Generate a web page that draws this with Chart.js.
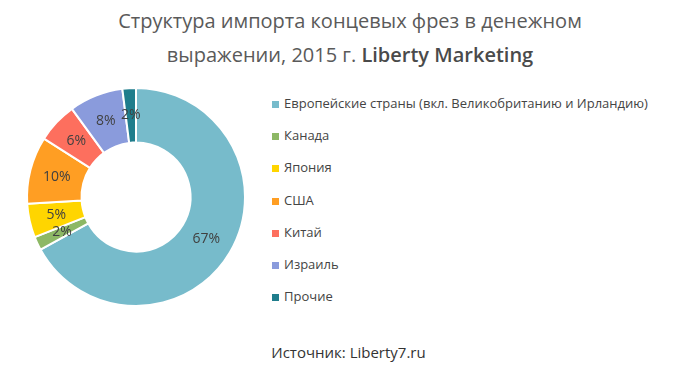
<!DOCTYPE html>
<html>
<head>
<meta charset="utf-8">
<script src="https://cdn.jsdelivr.net/npm/chart.js@4"></script>
<style>
  body { margin: 0; background: #fff; font-family: "Open Sans", sans-serif; }
  #wrap { position: relative; width: 695px; height: 375px; }
  #title { position: absolute; left: 0; top: 4px; width: 700px; text-align: center;
           font-size: 20px; line-height: 34px; color: #5a5a5a; }
  #title b { font-weight: 600; color: #4a4a4a; }
  #box { position: absolute; left: 0; top: 80px; width: 272px; height: 234px; }
  #legend { position: absolute; left: 272px; top: 93px; font-size: 13px; color: #444; }
  #legend div { height: 32.2px; line-height: 20px; white-space: nowrap; }
  #legend span { display: inline-block; width: 7px; height: 7px; margin-right: 5px; vertical-align: 0px; }
  #source { position: absolute; left: 0; top: 342px; width: 697px; text-align: center;
            font-size: 15px; color: #333; }
</style>
</head>
<body>
<div id="wrap">
  <div id="title">Структура импорта концевых фрез в денежном<br>выражении, 2015 г. <b>Liberty Marketing</b></div>
  <div id="box"><canvas id="myChart"></canvas></div>
  <div id="legend"></div>
  <div id="source">Источник: Liberty7.ru</div>
</div>
<script>
var labels = ['Европейские страны (вкл. Великобританию и Ирландию)', 'Канада', 'Япония', 'США', 'Китай', 'Израиль', 'Прочие'];
var shares = [67, 2, 5, 10, 6, 8, 2];
var colors = ['#77bbcb', '#8db865', '#ffd500', '#ff9e23', '#fd6f5e', '#8a9bdc', '#1f7d8c'];

// legend from the same arrays
var legend = document.getElementById('legend');
labels.forEach(function (l, i) {
    var row = document.createElement('div');
    var sq = document.createElement('span');
    sq.style.background = colors[i];
    row.appendChild(sq);
    row.appendChild(document.createTextNode(l));
    legend.appendChild(row);
});

// percent labels inside the slices
var sliceLabels = {
    id: 'sliceLabels',
    afterDatasetsDraw: function (chart) {
        var c = chart.ctx;
        var meta = chart.getDatasetMeta(0);
        c.save();
        c.font = '14px "Open Sans"';
        c.fillStyle = '#404040';
        c.textAlign = 'center';
        c.textBaseline = 'middle';
        meta.data.forEach(function (arc, i) {
            var p = arc.tooltipPosition();
            c.fillText(shares[i] + '%', p.x, p.y);
        });
        c.restore();
    }
};

var ctx = document.getElementById('myChart').getContext('2d');
var chart = new Chart(ctx, {
    type: 'doughnut',
    data: {
        labels: labels,
        datasets: [{
            data: shares,
            backgroundColor: colors,
            borderColor: '#ffffff',
            borderWidth: 2
        }]
    },
    options: {
        responsive: true,
        maintainAspectRatio: false,
        animation: false,
        cutout: '50%',
        layout: { padding: { left: 26, right: 26, top: 7, bottom: 7 } },
        plugins: {
            legend: { display: false },
            tooltip: { enabled: false }
        }
    },
    plugins: [sliceLabels]
});
</script>
</body>
</html>
